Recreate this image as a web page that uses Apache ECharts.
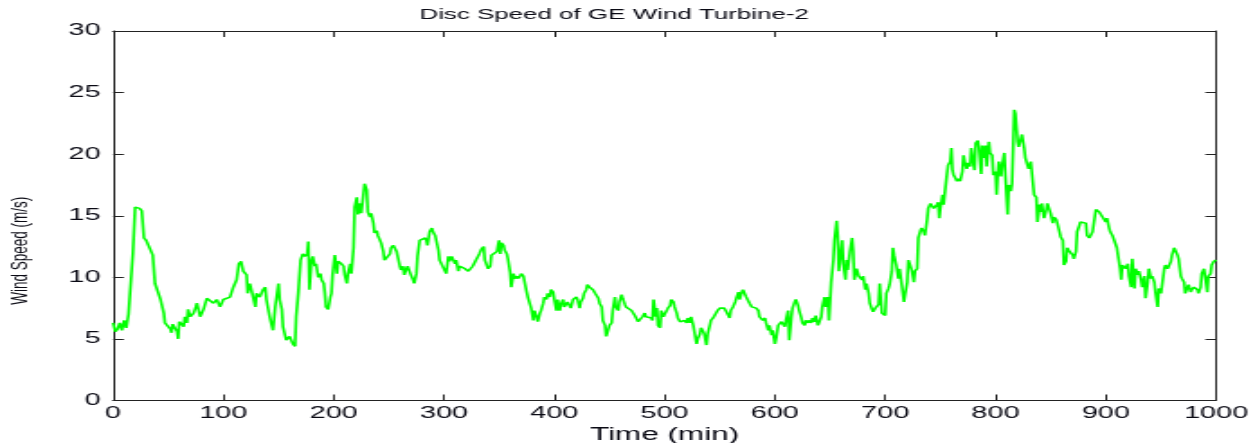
<!DOCTYPE html>
<html>
<head>
<meta charset="utf-8">
<script src="https://cdn.jsdelivr.net/npm/echarts@6/dist/echarts.min.js"></script>
<style>
  html, body { margin: 0; padding: 0; background: #fff; overflow: hidden; }
  /* the figure is laid out narrow and widened horizontally, like the exported plot */
  #chart { width: 696px; height: 443px; transform: scaleX(1.8003); transform-origin: 0 0; }
</style>
</head>
<body>
<div id="chart"></div>
<script>
const chartTitle = 'Disc Speed of GE Wind Turbine-2';
const xAxisName = 'Time (min)';
const yAxisName = 'Wind Speed (m/s)';

const xTickLabels = [0, 100, 200, 300, 400, 500, 600, 700, 800, 900, 1000];
const yTickLabels = [0, 5, 10, 15, 20, 25, 30];

// sample time (min)
const minutes = [
  0, 2, 4, 6, 8, 10, 12, 14, 16, 18, 20, 22, 24, 26, 28, 30, 33, 36, 38, 41,
  43, 46, 47, 50, 52, 53, 54, 56, 58, 59, 60, 62, 64, 65, 67, 68, 70, 73, 75, 76,
  78, 79, 82, 85, 88, 91, 94, 97, 100, 103, 106, 109, 112, 114, 116, 118, 121, 122, 124, 127,
  129, 130, 133, 136, 138, 139, 142, 145, 147, 150, 151, 153, 154, 157, 160, 163, 165, 166, 168, 170,
  171, 172, 174, 176, 177, 178, 180, 181, 183, 184, 186, 188, 189, 191, 192, 193, 195, 197, 198, 199,
  201, 203, 204, 206, 207, 209, 210, 212, 213, 215, 216, 218, 219, 221, 222, 224, 225, 227, 228, 230,
  231, 233, 234, 236, 237, 239, 240, 242, 243, 245, 246, 248, 249, 251, 252, 254, 255, 257, 258, 260,
  261, 263, 264, 266, 267, 269, 270, 272, 273, 275, 276, 278, 280, 281, 283, 284, 285, 287, 289, 290,
  292, 293, 295, 296, 298, 299, 301, 302, 304, 305, 307, 308, 310, 311, 313, 314, 316, 317, 319, 320,
  322, 323, 325, 326, 328, 329, 331, 332, 334, 336, 337, 339, 340, 342, 343, 345, 346, 348, 349, 350,
  351, 352, 354, 355, 357, 358, 360, 361, 363, 364, 366, 367, 369, 370, 372, 373, 375, 376, 378, 379,
  381, 382, 384, 385, 387, 388, 390, 391, 393, 394, 396, 397, 399, 400, 402, 403, 405, 406, 408, 409,
  411, 412, 414, 415, 417, 418, 420, 421, 423, 424, 426, 427, 429, 430, 432, 434, 435, 437, 438, 440,
  441, 443, 444, 446, 447, 449, 450, 452, 453, 455, 456, 458, 459, 461, 462, 464, 465, 467, 468, 470,
  471, 473, 474, 476, 477, 479, 480, 482, 483, 485, 486, 488, 489, 490, 492, 493, 494, 496, 497, 499,
  500, 502, 503, 505, 506, 508, 509, 511, 512, 514, 515, 517, 518, 520, 521, 523, 524, 526, 527, 529,
  530, 532, 533, 535, 536, 538, 539, 541, 542, 544, 545, 547, 548, 550, 551, 553, 554, 556, 557, 559,
  560, 562, 564, 565, 567, 568, 570, 571, 573, 574, 576, 577, 579, 580, 582, 583, 585, 586, 588, 589,
  591, 592, 594, 595, 597, 598, 600, 601, 603, 604, 606, 607, 609, 610, 612, 613, 615, 616, 618, 619,
  621, 622, 624, 625, 627, 628, 630, 631, 633, 634, 636, 637, 639, 640, 642, 643, 645, 646, 648, 649,
  651, 653, 654, 656, 657, 658, 660, 661, 662, 664, 665, 666, 667, 668, 670, 671, 672, 674, 676, 677,
  679, 680, 682, 683, 685, 686, 688, 689, 691, 692, 694, 695, 697, 698, 700, 701, 703, 704, 706, 707,
  708, 710, 712, 713, 715, 717, 718, 720, 721, 723, 724, 726, 727, 729, 730, 732, 733, 735, 736, 738,
  739, 741, 742, 744, 745, 747, 748, 749, 750, 752, 753, 754, 756, 757, 759, 760, 761, 762, 764, 765,
  767, 768, 770, 771, 772, 774, 775, 777, 778, 779, 781, 782, 784, 785, 787, 788, 789, 791, 792, 794,
  795, 797, 798, 800, 801, 802, 803, 805, 806, 808, 809, 811, 812, 814, 815, 817, 818, 820, 821, 823,
  824, 826, 827, 829, 830, 832, 833, 835, 837, 838, 840, 841, 842, 844, 846, 847, 849, 850, 852, 853,
  855, 856, 858, 859, 861, 862, 864, 865, 867, 868, 870, 871, 873, 874, 876, 877, 879, 880, 882, 883,
  885, 886, 888, 889, 891, 892, 894, 895, 897, 898, 900, 901, 903, 904, 906, 907, 909, 910, 911, 913,
  914, 915, 917, 918, 920, 921, 923, 924, 926, 927, 929, 930, 932, 933, 935, 936, 938, 939, 941, 942,
  944, 945, 947, 948, 950, 951, 953, 954, 956, 957, 959, 960, 962, 963, 965, 966, 968, 969, 971, 972,
  974, 975, 977, 978, 980, 981, 983, 984, 986, 987, 989, 990, 992, 993, 995, 996, 998, 1000
];

// wind speed (m/s) at each sample
const speeds = [
  6.3, 5.6, 5.8, 6.3, 5.7, 6.5, 5.9, 7.0, 7.1, 12.0, 15.7, 15.8, 15.6, 15.4, 13.2, 13.0, 12.4, 11.8, 9.5, 9.4,
  8.2, 7.1, 6.3, 6.4, 5.8, 5.5, 6.2, 6.3, 5.6, 5.0, 6.4, 6.5, 6.0, 6.8, 6.3, 7.4, 6.8, 7.1, 7.6, 7.9,
  7.2, 6.8, 7.4, 8.3, 8.2, 7.9, 8.2, 7.6, 8.2, 8.3, 8.4, 9.2, 9.8, 11.1, 11.3, 10.5, 10.2, 8.7, 9.5, 8.4,
  7.6, 8.7, 8.4, 9.0, 9.2, 8.2, 6.8, 5.7, 7.6, 9.5, 8.2, 7.4, 6.0, 4.9, 5.2, 4.6, 4.4, 6.8, 8.8, 11.4,
  11.5, 11.9, 11.7, 11.9, 12.9, 9.0, 11.4, 11.7, 10.9, 11.1, 10.0, 10.3, 9.8, 9.5, 8.7, 7.6, 7.4, 8.4, 8.7, 10.2,
  11.8, 10.3, 11.3, 11.3, 11.1, 10.9, 10.2, 9.5, 10.3, 11.1, 10.3, 12.4, 15.7, 16.5, 15.1, 16.0, 15.2, 16.8, 17.6, 17.1,
  15.3, 14.9, 15.2, 14.4, 13.6, 13.8, 13.4, 13.3, 12.8, 12.1, 11.4, 11.5, 11.7, 11.9, 12.4, 12.6, 12.5, 12.1, 11.7, 10.9,
  10.6, 10.9, 10.2, 10.7, 10.9, 11.0, 10.2, 9.8, 9.5, 10.3, 11.7, 13.0, 13.0, 12.9, 13.2, 13.0, 12.6, 13.7, 14.0, 13.7,
  13.4, 13.4, 12.2, 11.4, 11.3, 11.3, 10.5, 10.3, 11.7, 11.3, 11.7, 11.5, 11.1, 11.4, 10.5, 10.9, 11.0, 10.9, 10.7, 10.6,
  10.5, 10.6, 10.6, 10.9, 11.0, 11.4, 11.4, 11.9, 12.3, 12.5, 11.4, 11.4, 10.7, 10.9, 11.8, 11.9, 11.9, 12.1, 12.6, 13.0,
  11.9, 12.8, 12.6, 12.2, 11.9, 11.5, 10.4, 9.2, 10.3, 9.9, 10.1, 9.9, 10.1, 10.3, 10.1, 10.1, 8.8, 8.4, 8.3, 7.5,
  6.5, 7.3, 6.8, 6.4, 7.1, 7.3, 7.9, 8.4, 8.2, 8.7, 8.4, 9.0, 8.8, 8.2, 7.3, 8.2, 7.3, 7.8, 8.2, 7.6,
  7.6, 8.0, 7.9, 7.5, 8.2, 8.3, 8.4, 8.2, 7.5, 8.0, 8.3, 8.7, 9.0, 9.4, 9.2, 9.1, 9.0, 8.7, 8.6, 8.3,
  7.9, 7.6, 6.5, 6.1, 5.2, 5.3, 6.1, 6.3, 7.3, 8.4, 7.6, 7.3, 8.0, 8.6, 8.3, 7.8, 7.6, 7.6, 7.5, 7.3,
  7.2, 6.9, 6.8, 6.4, 6.3, 6.5, 6.8, 7.1, 6.8, 6.8, 6.7, 6.7, 6.5, 8.2, 6.8, 7.5, 6.1, 5.9, 7.3, 6.8,
  7.0, 7.3, 7.5, 7.7, 8.2, 8.0, 7.6, 7.1, 6.7, 6.4, 6.5, 6.3, 6.5, 6.3, 6.7, 6.3, 6.8, 6.1, 5.6, 4.6,
  5.0, 5.4, 5.9, 5.6, 5.4, 4.5, 5.4, 6.1, 6.5, 6.7, 6.8, 6.8, 7.3, 7.5, 7.6, 7.6, 7.5, 7.2, 7.1, 6.7,
  7.3, 7.6, 8.0, 8.3, 8.8, 8.2, 8.8, 9.0, 9.0, 8.4, 8.3, 7.9, 7.6, 7.6, 7.6, 7.5, 7.3, 6.8, 6.7, 6.5,
  6.7, 6.3, 5.7, 6.1, 5.3, 5.7, 4.6, 5.0, 6.1, 6.0, 6.4, 6.3, 6.0, 6.5, 7.3, 4.9, 6.8, 7.5, 8.0, 8.2,
  7.7, 7.3, 6.7, 6.3, 6.1, 6.5, 6.3, 6.5, 6.3, 6.7, 6.4, 6.9, 6.1, 6.3, 6.8, 7.6, 8.4, 7.6, 8.4, 6.5,
  9.6, 11.4, 13.0, 14.6, 13.3, 10.5, 12.2, 13.0, 11.1, 9.8, 11.4, 10.6, 10.5, 12.1, 13.2, 12.1, 9.8, 10.7, 10.1, 10.2,
  9.8, 10.1, 9.0, 9.5, 8.7, 7.9, 7.4, 7.2, 7.5, 7.4, 7.8, 9.5, 7.1, 7.1, 6.9, 8.7, 9.1, 9.4, 10.5, 12.4,
  11.8, 11.0, 9.9, 10.7, 9.4, 8.0, 8.6, 9.6, 11.4, 11.3, 10.6, 9.6, 10.5, 10.7, 13.2, 13.8, 14.0, 13.7, 13.4, 14.7,
  15.6, 16.0, 16.0, 15.6, 15.5, 15.9, 16.1, 14.8, 15.6, 16.7, 15.9, 16.8, 18.4, 19.1, 19.4, 20.5, 18.7, 18.3, 18.0, 17.8,
  18.0, 17.8, 18.6, 19.9, 19.4, 18.8, 19.3, 19.0, 20.5, 19.8, 18.7, 20.9, 21.1, 20.5, 18.4, 20.7, 19.7, 20.7, 19.0, 21.0,
  20.1, 19.9, 18.3, 18.6, 16.7, 18.3, 19.4, 18.2, 19.1, 20.1, 18.2, 15.1, 17.5, 17.0, 17.6, 23.6, 23.3, 21.0, 20.6, 20.6,
  21.6, 20.5, 19.7, 19.7, 18.8, 19.4, 19.5, 16.7, 16.5, 14.5, 15.9, 15.3, 16.0, 14.8, 15.5, 16.0, 16.1, 15.2, 14.4, 14.9,
  14.7, 14.4, 13.7, 13.3, 13.0, 11.0, 11.3, 12.4, 12.1, 12.0, 11.8, 11.5, 12.1, 13.7, 14.2, 14.5, 14.5, 14.5, 14.4, 13.4,
  13.2, 13.3, 13.7, 13.8, 15.5, 15.5, 15.3, 15.3, 14.9, 14.8, 14.5, 14.8, 14.0, 13.7, 13.4, 13.3, 13.4, 12.4, 11.8, 10.7,
  9.8, 11.0, 11.1, 10.7, 11.1, 10.1, 9.2, 11.5, 9.1, 10.7, 10.2, 10.5, 9.8, 9.2, 10.1, 8.3, 9.6, 10.7, 9.9, 10.1,
  9.6, 8.8, 7.6, 9.1, 8.7, 8.7, 10.7, 11.0, 10.7, 10.9, 11.3, 11.8, 12.4, 12.5, 11.8, 11.5, 10.1, 9.9, 9.6, 8.7,
  8.6, 9.4, 8.8, 9.0, 9.2, 9.1, 9.0, 8.7, 9.2, 10.3, 10.7, 10.1, 8.8, 10.1, 10.3, 11.0, 11.3, 11.4
];

const seriesData = minutes.map((t, i) => [t, speeds[i]]);

const fontFamily = '"Liberation Sans", Arial, sans-serif';
const axisColor = '#222';
const textColor = '#0a0a14';

function boxAxis(position, min, max, interval, withLabels) {
  return {
    type: 'value',
    position: position,
    min: min,
    max: max,
    interval: interval,
    axisLine: { show: true, onZero: false, lineStyle: { color: axisColor, width: 1 } },
    axisTick: { show: true, inside: true, length: 6, lineStyle: { color: axisColor, width: 1 } },
    axisLabel: { show: withLabels },
    splitLine: { show: false }
  };
}

const plainNumber = v => String(v);

const xBottom = Object.assign(boxAxis('bottom', xTickLabels[0], xTickLabels[xTickLabels.length - 1], xTickLabels[1] - xTickLabels[0], true), {
  name: xAxisName,
  nameLocation: 'middle',
  nameGap: 24.5,
  nameTextStyle: { fontSize: 17.5, color: textColor, fontFamily: fontFamily },
  axisLabel: { show: true, fontSize: 16, color: textColor, fontFamily: fontFamily, margin: 5, formatter: plainNumber }
});
const xTop = boxAxis('top', xTickLabels[0], xTickLabels[xTickLabels.length - 1], xTickLabels[1] - xTickLabels[0], false);

const yLeft = Object.assign(boxAxis('left', yTickLabels[0], yTickLabels[yTickLabels.length - 1], yTickLabels[1] - yTickLabels[0], true), {
  name: yAxisName,
  nameLocation: 'middle',
  nameGap: 45,
  nameTextStyle: { fontSize: 13.5, color: textColor, fontFamily: fontFamily, padding: [0, 70, 0, 0] },
  axisLabel: { show: true, fontSize: 16, color: textColor, fontFamily: fontFamily, margin: 7, formatter: plainNumber }
});
const yRight = boxAxis('right', yTickLabels[0], yTickLabels[yTickLabels.length - 1], yTickLabels[1] - yTickLabels[0], false);

const chart = echarts.init(document.getElementById('chart'), null, { renderer: 'canvas' });
chart.setOption({
  backgroundColor: '#ffffff',
  animation: false,
  title: {
    text: chartTitle,
    left: 228,
    top: 3,
    textStyle: { fontSize: 14.4, fontWeight: 'normal', color: textColor, fontFamily: fontFamily }
  },
  grid: { left: 62.8, right: 20.5, top: 31, bottom: 42.5, containLabel: false, outerBoundsMode: 'none' },
  xAxis: [xBottom, xTop],
  yAxis: [yLeft, yRight],
  series: [{
    type: 'line',
    xAxisIndex: 0,
    yAxisIndex: 0,
    data: seriesData,
    showSymbol: false,
    symbol: 'none',
    lineStyle: { color: '#00ff00', width: 1.6 },
    z: 3
  }]
});
</script>
</body>
</html>
